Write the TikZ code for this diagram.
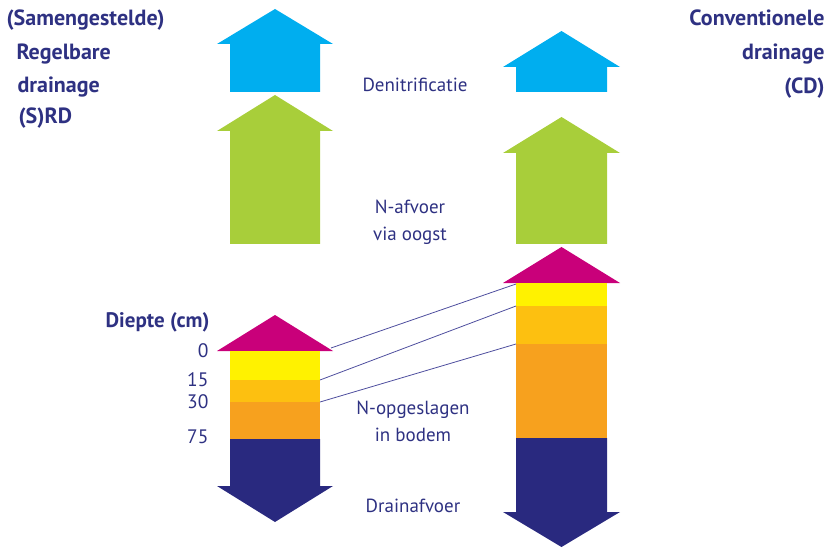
\documentclass[tikz,border=0pt]{standalone}
\usepackage{fontspec}
\setmainfont{PT Sans}

\definecolor{tekst}{HTML}{2E3182}
\definecolor{lijn}{HTML}{4E4E9E}
\definecolor{denit}{HTML}{00AEEF}
\definecolor{oogst}{HTML}{A8CE3A}
\definecolor{top}{HTML}{C9007A}
\definecolor{laag1}{HTML}{FFF200}
\definecolor{laag2}{HTML}{FDC010}
\definecolor{laag3}{HTML}{F7A11E}
\definecolor{drain}{HTML}{29297F}

\tikzset{
txt/.style={text=tekst, align=center, font=\fontsize{19}{27}\selectfont},
kop/.style={text=tekst, font=\bfseries\fontsize{22}{34}\selectfont},
diep/.style={text=tekst, anchor=east, font=\fontsize{19.5}{20}\selectfont},
verbind/.style={draw=lijn, line width=0.8pt}
}

\begin{document}
\begin{tikzpicture}[x=1pt, y=-1pt]

\useasboundingbox (0,0) rectangle (830,548);

% (S)RD kolom
\fill[denit] (230,92) -- (230,44) -- (217,44) -- (275,9) -- (333,44) -- (320,44) -- (320,92) -- cycle;
\fill[oogst] (230,244) -- (230,131) -- (217,131) -- (275,95) -- (333,131) -- (320,131) -- (320,244) -- cycle;

\fill[top] (217,351) -- (275,315) -- (333,351) -- cycle;
\fill[laag1] (230,351) rectangle (320,380);
\fill[laag2] (230,380) rectangle (320,402);
\fill[laag3] (230,402) rectangle (320,439);
\fill[drain] (230,439) -- (230,486) -- (217,486) -- (275,522) -- (333,486) -- (320,486) -- (320,439) -- cycle;

% CD kolom
\fill[denit] (516,92) -- (516,67) -- (503,67) -- (561.5,31) -- (620,67) -- (607,67) -- (607,92) -- cycle;
\fill[oogst] (516,244) -- (516,153) -- (503,153) -- (561.5,117) -- (620,153) -- (607,153) -- (607,244) -- cycle;

\fill[top] (503,283) -- (561.5,247) -- (620,283) -- cycle;
\fill[laag1] (516,283) rectangle (607,306);
\fill[laag2] (516,306) rectangle (607,344);
\fill[laag3] (516,344) rectangle (607,438);
\fill[drain] (516,438) -- (516,512) -- (503,512) -- (561.5,547) -- (620,512) -- (607,512) -- (607,438) -- cycle;

\coordinate (L0) at (331,348);
\coordinate (L15) at (320,380);
\coordinate (L30) at (320,402);
\coordinate (R0) at (516,284);
\coordinate (R15) at (516,306);
\coordinate (R30) at (516,344);

\draw[verbind] (L0) -- (R0);
\draw[verbind] (L15) -- (R15);
\draw[verbind] (L30) -- (R30);

\node[kop, anchor=west] (samen) at (3,20) {(Samengestelde)};
\node[kop, anchor=west] (regel) at (13,54) {Regelbare};
\node[kop, anchor=west] (drainL) at (14,87) {drainage};
\node[kop, anchor=west] (srd) at (15,118) {(S)RD};

\node[kop, anchor=east, align=right] (cd) at (828,54)
{Conventionele\\drainage\\(CD)};

\node[txt] (denitr) at (415,85) {Denitrificatie};
\node[txt] (afvoer) at (410,222) {N-afvoer\\via oogst};
\node[txt] (bodem) at (413,421) {N-opgeslagen\\in bodem};
\node[txt] (drainafv) at (413,506) {Drainafvoer};

\node[kop, anchor=east, font=\bfseries\fontsize{21}{24}\selectfont] (diepte) at (213,322) {Diepte (cm)};
\node[diep] (d0) at (212,351) {0};
\node[diep] (d15) at (212,380) {15};
\node[diep] (d30) at (212,402) {30};
\node[diep] (d75) at (212,437) {75};

\end{tikzpicture}
\end{document}
